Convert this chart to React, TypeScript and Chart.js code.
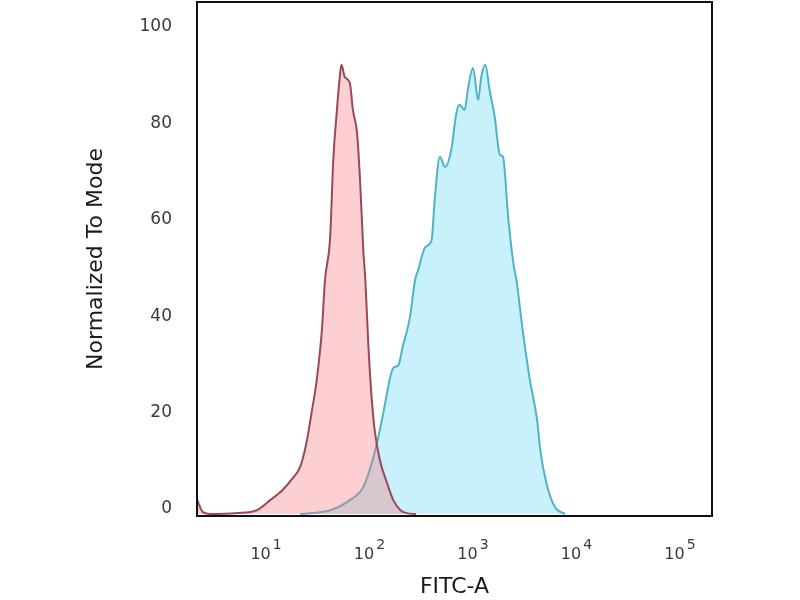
import React, { useEffect, useRef } from 'react';
import { Chart, registerables } from 'chart.js';

Chart.register(...registerables);

// FITC-A channel in decades (log10), normalized count in % of mode
const redFitc = [0.33, 0.39, 0.46, 0.72, 0.91, 1.04, 1.16, 1.26, 1.33, 1.39, 1.44, 1.49, 1.54, 1.57, 1.62, 1.65, 1.68, 1.72, 1.73, 1.76, 1.81, 1.84, 1.88, 1.91, 1.94, 1.96, 1.99, 2.02, 2.05, 2.10, 2.17, 2.23, 2.30, 2.36, 2.45];
const redCount = [3.2, 0.4, 0, 0.2, 0.8, 2.9, 5.0, 7.5, 9.8, 14.7, 21.0, 27.8, 38.2, 48.5, 57.5, 73.4, 82.4, 92.1, 93.2, 90.7, 89.4, 83.8, 79.0, 68.7, 54.8, 48.5, 34.6, 24.3, 17.4, 11.2, 6.4, 2.9, 0.8, 0.2, 0];

const blueFitc = [1.33, 1.62, 1.81, 1.94, 2.03, 2.10, 2.17, 2.20, 2.23, 2.28, 2.32, 2.39, 2.44, 2.47, 2.54, 2.60, 2.63, 2.68, 2.73, 2.79, 2.84, 2.87, 2.92, 2.95, 3.00, 3.05, 3.08, 3.12, 3.16, 3.21, 3.26, 3.29, 3.34, 3.39, 3.42, 3.48, 3.55, 3.62, 3.65, 3.71, 3.79, 3.89];
const blueCount = [0, 0.8, 2.9, 5.6, 11.2, 17.4, 25.1, 28.4, 30.3, 30.9, 34.6, 40.7, 48.5, 50.6, 55.4, 56.8, 65.1, 74.1, 72.0, 75.5, 83.2, 84.9, 83.8, 88.0, 92.5, 85.9, 90.7, 93.2, 88.0, 82.4, 74.5, 74.1, 61.6, 52.1, 48.5, 38.2, 27.8, 19.5, 13.3, 6.4, 1.5, 0];

const xDecades = [1, 2, 3, 4, 5];
const yTicks = [0, 20, 40, 60, 80, 100];

const toPoints = (xs: number[], ys: number[]) => xs.map((x, i) => ({ x, y: ys[i] }));

// black box round the plot area, plus "10^n" labels with a raised exponent
const framePlugin = {
  id: 'frame',
  afterDraw(chart: Chart) {
    const { ctx, chartArea } = chart;
    ctx.save();
    ctx.strokeStyle = '#111';
    ctx.lineWidth = 2;
    ctx.strokeRect(chartArea.left, chartArea.top, chartArea.right - chartArea.left, chartArea.bottom - chartArea.top);

    const xScale = chart.scales.x;
    ctx.fillStyle = '#3a3a3a';
    ctx.textBaseline = 'alphabetic';
    ctx.textAlign = 'left';
    xDecades.forEach((d) => {
      const px = xScale.getPixelForValue(d);
      ctx.font = '16px "DejaVu Sans"';
      const base = '10';
      const wBase = ctx.measureText(base).width;
      ctx.font = '14px "DejaVu Sans"';
      const exp = String(d);
      const wExp = ctx.measureText(exp).width;
      const gap = 2;
      const start = px - (wBase + gap + wExp) / 2;
      ctx.font = '16px "DejaVu Sans"';
      ctx.fillText(base, start, chartArea.bottom + 43);
      ctx.font = '14px "DejaVu Sans"';
      ctx.fillText(exp, start + wBase + gap, chartArea.bottom + 33);
    });
    ctx.restore();
  },
};

const Histogram = () => {
  const canvasRef = useRef<HTMLCanvasElement>(null);

  useEffect(() => {
    if (!canvasRef.current) return;
    const chart = new Chart(canvasRef.current, {
      type: 'line',
      data: {
        datasets: [
          {
            label: 'Isotype',
            data: toPoints(redFitc, redCount),
            borderColor: '#9a4a57',
            backgroundColor: 'rgba(245, 120, 130, 0.35)',
            borderWidth: 2,
            fill: 'origin',
            pointRadius: 0,
            cubicInterpolationMode: 'monotone',
          },
          {
            label: 'Antibody',
            data: toPoints(blueFitc, blueCount),
            borderColor: '#4fb2cb',
            backgroundColor: 'rgba(120, 220, 245, 0.4)',
            borderWidth: 2,
            fill: 'origin',
            pointRadius: 0,
            cubicInterpolationMode: 'monotone',
          },
        ],
      },
      options: {
        animation: false,
        responsive: true,
        maintainAspectRatio: false,
        layout: { padding: { top: 2, right: 88, bottom: 0, left: 0 } },
        plugins: {
          legend: { display: false },
          tooltip: { enabled: false },
        },
        scales: {
          x: {
            type: 'linear',
            min: 0.333,
            max: 5.31,
            afterBuildTicks: (scale: any) => {
              scale.ticks = xDecades.map((v) => ({ value: v }));
            },
            afterFit: (scale: any) => {
              scale.height = 84;
              scale.paddingLeft = 0;
              scale.paddingRight = 0;
            },
            grid: { display: false, drawTicks: false },
            border: { display: false },
            ticks: { display: false },
            title: {
              display: true,
              text: 'FITC-A',
              color: '#1a1a1a',
              font: { family: 'DejaVu Sans', size: 22 },
              padding: { top: 0, bottom: 0 },
            },
          },
          y: {
            type: 'linear',
            min: -0.4,
            max: 106.2,
            afterBuildTicks: (scale: any) => {
              scale.ticks = yTicks.map((v) => ({ value: v }));
            },
            afterFit: (scale: any) => {
              scale.width = 197;
              scale.paddingTop = 0;
              scale.paddingBottom = 0;
            },
            grid: { display: false, drawTicks: false },
            border: { display: false },
            ticks: {
              padding: 25,
              labelOffset: -5,
              color: '#3a3a3a',
              font: { family: 'DejaVu Sans', size: 17 },
            },
            title: {
              display: true,
              text: 'Normalized To Mode',
              color: '#1a1a1a',
              font: { family: 'DejaVu Sans', size: 22 },
              padding: { top: 83, bottom: 0 },
            },
          },
        },
      },
      plugins: [framePlugin],
    });
    return () => {
      chart.destroy();
    };
  }, []);

  return (
    <div style={{ position: 'fixed', left: 0, top: 0, width: '800px', height: '600px', background: '#fff' }}>
      <canvas ref={canvasRef} />
    </div>
  );
};

export default function App() {
  return <Histogram />;
}
